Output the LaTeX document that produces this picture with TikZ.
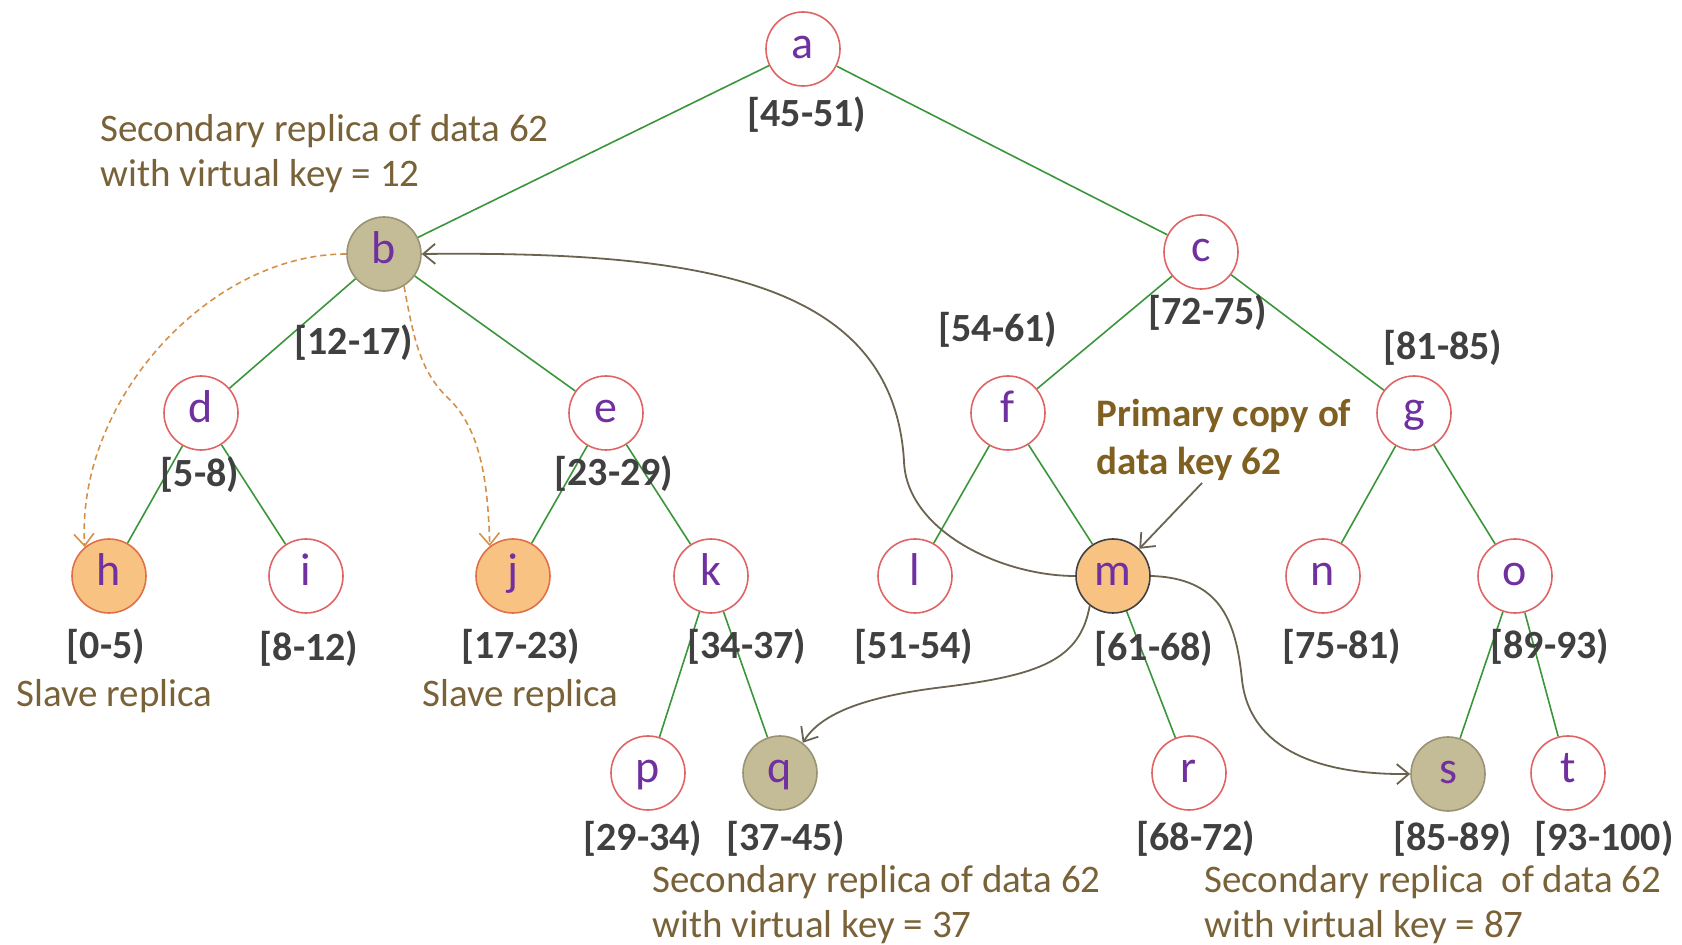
\documentclass[tikz,border=0pt]{standalone}
\usepackage{fontspec}
\setmainfont{Carlito}
\usetikzlibrary{arrows.meta}
\definecolor{nodered}{HTML}{E06464}
\definecolor{letterpurple}{HTML}{7030A0}
\definecolor{edgegreen}{HTML}{3A963A}
\definecolor{labelgray}{HTML}{404040}
\definecolor{annobrown}{HTML}{7A6238}
\definecolor{primbrown}{HTML}{7F6020}
\definecolor{olivefill}{HTML}{C4BC96}
\definecolor{olivedraw}{HTML}{9A9274}
\definecolor{orangefill}{HTML}{F8C282}
\definecolor{orangedraw}{HTML}{E07048}
\definecolor{arrowgray}{HTML}{6A6350}
\definecolor{dashorange}{HTML}{D4914A}
\begin{document}
\begin{tikzpicture}[x=0.5pt,y=-0.5pt,
  treenode/.style={circle,draw=nodered,fill=white,line width=0.8pt,minimum size=37pt,inner sep=0pt,
    text=letterpurple,font=\fontsize{23}{23}\selectfont,text height=1.05em,text depth=0.12em},
  olivenode/.style={treenode,fill=olivefill,draw=olivedraw},
  orangenode/.style={treenode,fill=orangefill,draw=orangedraw},
  primnode/.style={treenode,fill=orangefill,draw=black!75},
  treeedge/.style={draw=edgegreen,line width=0.8pt},
  rangelbl/.style={text=labelgray,font=\fontsize{20}{22}\selectfont\bfseries,inner sep=0pt},
  annot/.style={text=annobrown,font=\fontsize{19.5}{22.5}\selectfont,align=left,inner sep=0pt,anchor=west},
  primannot/.style={text=primbrown,font=\fontsize{19.5}{24}\selectfont\bfseries,align=left,inner sep=0pt,anchor=west},
  grayarrow/.style={draw=arrowgray,line width=0.9pt,-{Straight Barb[length=6pt,width=10pt]}},
  dasharrow/.style={draw=dashorange,line width=0.8pt,dash pattern=on 3pt off 2pt,-{Straight Barb[length=6pt,width=10pt]}}
]
\useasboundingbox (0,0) rectangle (1682,945);

% nodes
\node[treenode]   (a) at (803,49) {a};
\node[olivenode]  (b) at (384,254) {b};
\node[treenode]   (c) at (1201,252) {c};
\node[treenode]   (d) at (201,413) {d};
\node[treenode]   (e) at (606,413) {e};
\node[treenode]   (f) at (1008,413) {f};
\node[treenode]   (g) at (1414,413) {g};
\node[orangenode] (h) at (109,576) {h};
\node[treenode]   (i) at (306,576) {i};
\node[orangenode] (j) at (513,576) {j};
\node[treenode]   (k) at (711,576) {k};
\node[treenode]   (l) at (915,576) {l};
\node[primnode]   (m) at (1113,576) {m};
\node[treenode]   (n) at (1323,576) {n};
\node[treenode]   (o) at (1515,576) {o};
\node[treenode]   (p) at (648,773) {p};
\node[olivenode]  (q) at (780,773) {q};
\node[treenode]   (r) at (1189,773) {r};
\node[olivenode]  (s) at (1448,774) {s};
\node[treenode]   (t) at (1568,773) {t};

% tree edges
\draw[treeedge] (a) -- (b);
\draw[treeedge] (a) -- (c);
\draw[treeedge] (b) -- (d);
\draw[treeedge] (b) -- (e);
\draw[treeedge] (c) -- (f);
\draw[treeedge] (c) -- (g);
\draw[treeedge] (d) -- (h);
\draw[treeedge] (d) -- (i);
\draw[treeedge] (e) -- (j);
\draw[treeedge] (e) -- (k);
\draw[treeedge] (f) -- (l);
\draw[treeedge] (f) -- (m);
\draw[treeedge] (g) -- (n);
\draw[treeedge] (g) -- (o);
\draw[treeedge] (k) -- (p);
\draw[treeedge] (k) -- (q);
\draw[treeedge] (m) -- (r);
\draw[treeedge] (o) -- (s);
\draw[treeedge] (o) -- (t);

% range labels
\node[rangelbl] (la) at (807,115) {[45-51)};
\node[rangelbl] (lb) at (354,343) {[12-17)};
\node[rangelbl] (lc) at (1208,313) {[72-75)};
\node[rangelbl] (lf) at (998,330) {[54-61)};
\node[rangelbl] (lg) at (1443,348) {[81-85)};
\node[rangelbl] (ld) at (200,475) {[5-8)};
\node[rangelbl] (le) at (614,474) {[23-29)};
\node[rangelbl] (lh) at (106,647) {[0-5)};
\node[rangelbl] (li) at (309,649) {[8-12)};
\node[rangelbl] (lj) at (521,647) {[17-23)};
\node[rangelbl] (lk) at (747,647) {[34-37)};
\node[rangelbl] (ll) at (914,647) {[51-54)};
\node[rangelbl] (lm) at (1154,649) {[61-68)};
\node[rangelbl] (ln) at (1342,647) {[75-81)};
\node[rangelbl] (lo) at (1550,647) {[89-93)};
\node[rangelbl] (lp) at (643,839) {[29-34)};
\node[rangelbl] (lq) at (786,839) {[37-45)};
\node[rangelbl] (lr) at (1196,839) {[68-72)};
\node[rangelbl] (ls) at (1453,839) {[85-89)};
\node[rangelbl] (lt) at (1604,839) {[93-100)};

% annotations
\node[annot] (annb) at (100,154) {Secondary replica of data 62\\with virtual key = 12};
\node[annot] (annh) at (16,696) {Slave replica};
\node[annot] (annj) at (422,696) {Slave replica};
\node[primannot] (annm) at (1096,440) {Primary copy of\\data key 62};
\node[annot] (annq) at (652,905) {Secondary replica of data 62\\with virtual key = 37};
\node[annot] (anns) at (1204,905) {Secondary replica\ \ of data 62\\with virtual key = 87};

% replica arrows
\draw[dasharrow] (b.west) .. controls (210,254) and (76,400) .. (h.130);
\draw[dasharrow] (b.-58) .. controls (414,340) and (420,372) .. (450,400) .. controls (480,430) and (488,480) .. (j.128);
\draw[grayarrow] (m.west) .. controls (1000,576) and (906,530) .. (904,461) .. controls (893,280) and (700,251) .. (b.east);
\draw[grayarrow] (m.-128) .. controls (1080,660) and (1040,675) .. (944,687) .. controls (860,697) and (820,715) .. (q.53);
\draw[grayarrow] (m.east) .. controls (1220,578) and (1236,620) .. (1242,680) .. controls (1250,750) and (1320,775) .. (s.west);
\coordinate (primstart) at (1202,483);
\draw[grayarrow] (primstart) -- (m.46);
\end{tikzpicture}
\end{document}
